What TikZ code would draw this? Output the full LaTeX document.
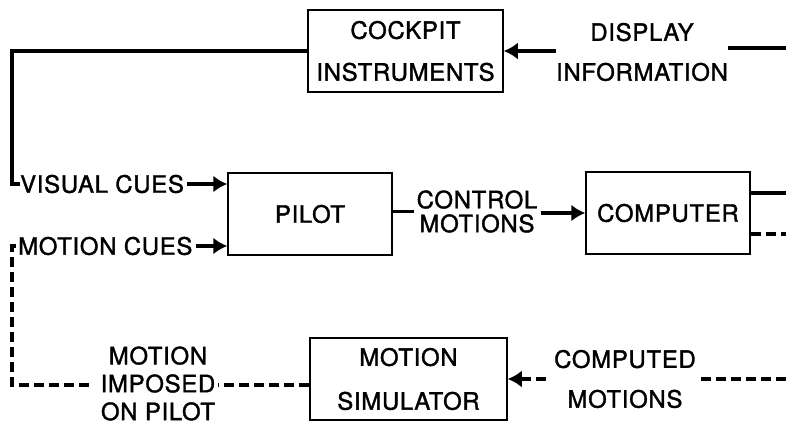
\documentclass[tikz,border=0pt]{standalone}
\usepackage{fontspec}
\setmainfont{TeX Gyre Heros}[LetterSpace=3, FakeBold=1.5]
\usetikzlibrary{arrows.meta}
\begin{document}
\begin{tikzpicture}[x=1bp,y=-1bp,
  every node/.style={font=\fontsize{24}{26}\selectfont, inner sep=0pt, align=center},
  blk/.style={draw, line width=1.5bp, minimum width=#1, minimum height=82bp},
  conn/.style={line width=3.4bp},
  dsh/.style={line width=3.4bp, dash pattern=on 10bp off 5bp},
  arr/.style={-{Latex[length=14bp,width=17bp]}},
]
\useasboundingbox (0,0) rectangle (786,425);
% blocks
\node[blk=195bp] (cockpit) at (405.5,51) {COCKPIT\\[16pt]INSTRUMENTS};
\node[blk=164bp] (pilot) at (310,214) {PILOT};
\node[blk=164bp] (computer) at (668,213) {COMPUTER};
\node[blk=197bp] (sim) at (408.5,379) {MOTION\\[18pt]SIMULATOR};
% labels
\node (disp) at (642,52) {DISPLAY\\[14pt]INFORMATION};
\node (ctrl) at (477,211.5) {CONTROL\\[-2pt]MOTIONS};
\node[anchor=west] (vis) at (20,184) {VISUAL CUES};
\node[anchor=west] (mcues) at (18,246) {MOTION CUES};
\node (imp) at (158,383.5) {MOTION\\[2pt]IMPOSED\\[2pt]ON PILOT};
\node (comp) at (625,379) {COMPUTED\\[14pt]MOTIONS};
% helper coordinates
\coordinate (L) at (12,0);
\coordinate (R) at (786,0);
\coordinate (dR) at (786,48);
\coordinate (mi) at (0,385);
\coordinate (cm) at (0,379);
\coordinate (cs) at (786,193);
\coordinate (cd) at (786,234);
% display information
\draw[conn] (dR) -- (disp.east |- dR);
\draw[conn,arr] (disp.west |- cockpit.east) -- ++(-3,0) -- (cockpit.east);
% visual cues
\draw[conn] (cockpit.west) -- (cockpit.west -| L) -- (vis.west -| L) -- (vis.west);
\draw[conn,arr] ([xshift=3bp]vis.east) -- (vis.east -| pilot.west);
% motion cues
\draw[conn,arr] ([xshift=3bp]mcues.east) -- (mcues.east -| pilot.west);
% control motions
\draw[conn] (pilot.east |- ctrl) -- ([xshift=-3bp]ctrl.west);
\draw[conn,arr] ([xshift=3bp]ctrl.east |- computer.west) -- (computer.west);
% computer outputs
\draw[conn] (computer.east |- cs) -- (cs);
\draw[dsh] (computer.east |- cd) -- (cd);
% computed motions
\draw[dsh] (R |- cm) -- ([xshift=2bp]comp.east |- cm);
\draw[dsh,arr] ([xshift=-8bp]comp.west |- cm) -- (sim.east |- cm);
% motion imposed on pilot
\draw[dsh] (sim.west |- mi) -- ([xshift=3bp]imp.east |- mi);
\draw[dsh] ([xshift=-12bp]imp.west |- mi) -- (mi -| L) -- (mcues.west -| L) -- (mcues.west);
\end{tikzpicture}
\end{document}
